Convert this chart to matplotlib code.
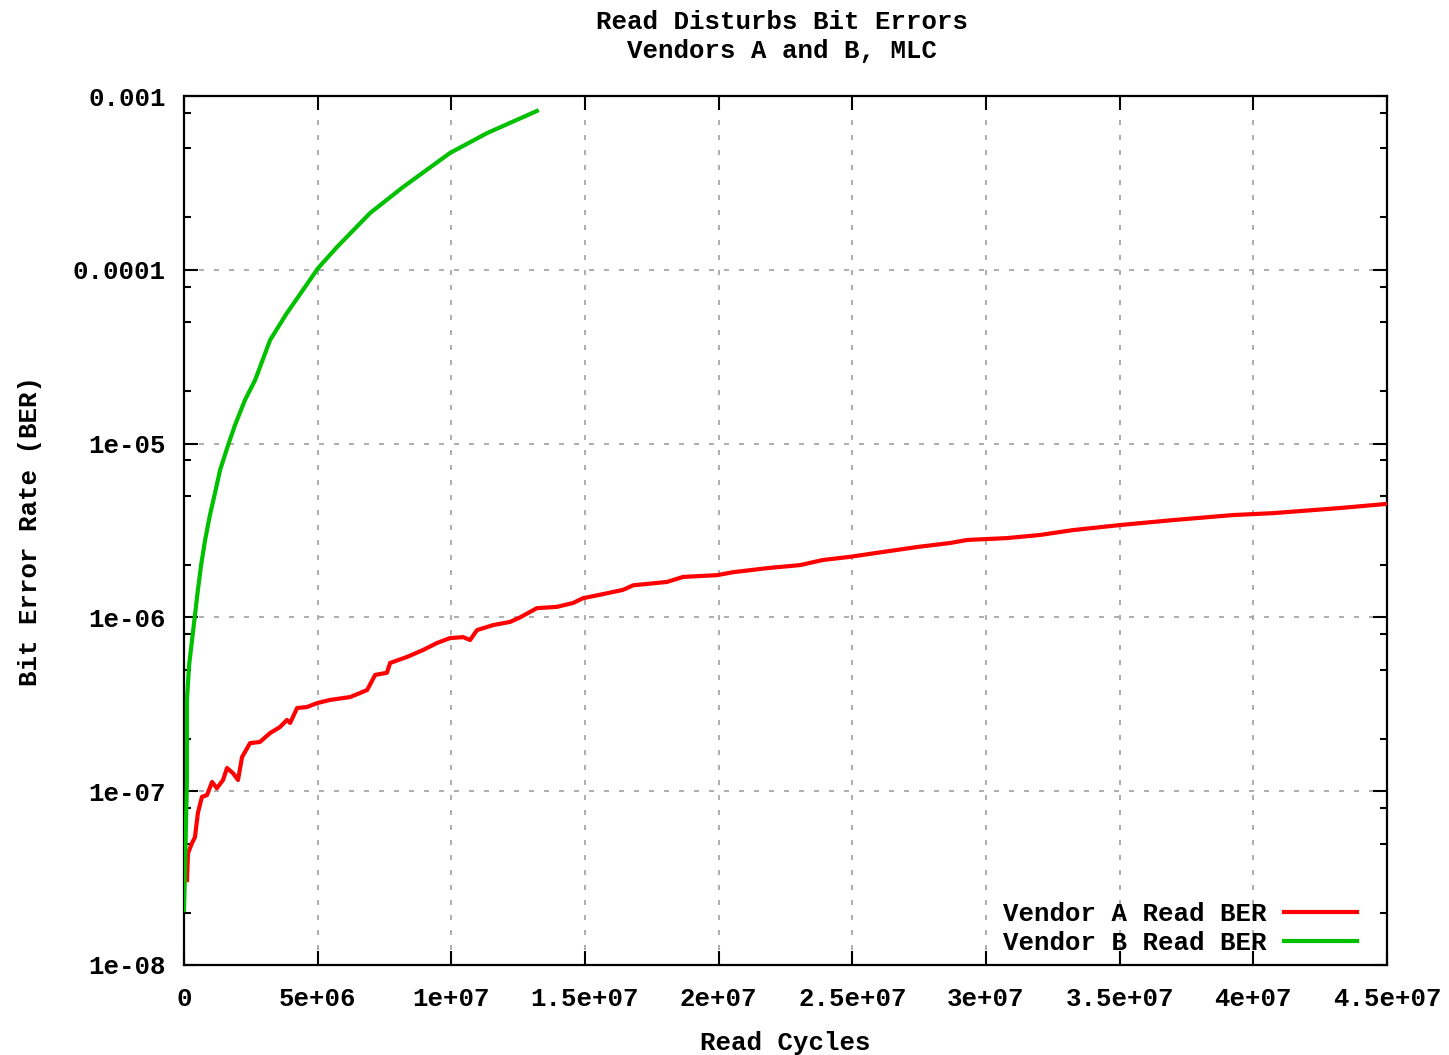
import matplotlib
matplotlib.use("Agg")
import matplotlib.pyplot as plt
from matplotlib.ticker import FixedLocator, NullFormatter

# ---- data ----
vendor_a_x = [1.12e5, 1.5e5, 3.0e5, 4.1e5, 5.2e5, 6.7e5, 8.6e5, 1.05e6, 1.23e6, 1.46e6,
              1.61e6, 1.83e6, 2.02e6, 2.17e6, 2.47e6, 2.84e6, 3.22e6, 3.59e6, 3.85e6, 3.97e6,
              4.23e6, 4.60e6, 4.97e6, 5.46e6, 6.21e6, 6.58e6, 6.85e6, 7.15e6, 7.59e6, 7.71e6,
              8.34e6, 8.94e6, 9.47e6, 9.95e6, 1.044e7, 1.07e7, 1.096e7, 1.156e7, 1.22e7, 1.257e7,
              1.32e7, 1.395e7, 1.455e7, 1.493e7, 1.556e7, 1.642e7, 1.68e7, 1.807e7, 1.867e7, 1.994e7,
              2.054e7, 2.181e7, 2.305e7, 2.39e7, 2.49e7, 2.615e7, 2.742e7, 2.866e7, 2.93e7, 3.079e7,
              3.202e7, 3.326e7, 3.502e7, 3.70e7, 3.924e7, 4.074e7, 4.325e7, 4.493e7]
vendor_a_ber = [3.08e-8, 4.4e-8, 5.03e-8, 5.44e-8, 7.5e-8, 9.27e-8, 9.5e-8, 1.13e-7, 1.04e-7, 1.16e-7,
                1.36e-7, 1.27e-7, 1.16e-7, 1.57e-7, 1.89e-7, 1.92e-7, 2.16e-7, 2.34e-7, 2.57e-7, 2.47e-7,
                3.01e-7, 3.05e-7, 3.21e-7, 3.35e-7, 3.48e-7, 3.67e-7, 3.82e-7, 4.67e-7, 4.8e-7, 5.47e-7,
                5.92e-7, 6.49e-7, 7.13e-7, 7.6e-7, 7.7e-7, 7.41e-7, 8.45e-7, 9.03e-7, 9.42e-7, 1.0e-6,
                1.13e-6, 1.15e-6, 1.21e-6, 1.29e-6, 1.35e-6, 1.44e-6, 1.53e-6, 1.60e-6, 1.71e-6, 1.75e-6,
                1.82e-6, 1.92e-6, 2.0e-6, 2.14e-6, 2.23e-6, 2.38e-6, 2.54e-6, 2.68e-6, 2.79e-6, 2.86e-6,
                2.98e-6, 3.18e-6, 3.40e-6, 3.63e-6, 3.88e-6, 3.98e-6, 4.26e-6, 4.49e-6]

vendor_b_x = [0, 3.7e4, 1.1e5, 1.1e5, 1.9e5, 3.0e5, 4.1e5, 5.2e5, 6.4e5, 7.9e5,
              9.7e5, 1.16e6, 1.35e6, 1.65e6, 1.91e6, 2.28e6, 2.66e6, 3.22e6, 3.85e6, 4.45e6,
              5.01e6, 5.72e6, 6.96e6, 8.19e6, 9.95e6, 1.134e7, 1.32e7]
vendor_b_ber = [2.07e-8, 3.5e-8, 1.16e-7, 3.35e-7, 5.3e-7, 7.4e-7, 1.03e-6, 1.44e-6, 2.0e-6, 2.79e-6,
                3.88e-6, 5.2e-6, 7.05e-6, 9.8e-6, 1.28e-5, 1.78e-5, 2.32e-5, 3.94e-5, 5.64e-5, 7.65e-5,
                1.02e-4, 1.35e-4, 2.12e-4, 2.99e-4, 4.70e-4, 6.12e-4, 8.2e-4]

xtick_values = [0, 5e6, 1e7, 1.5e7, 2e7, 2.5e7, 3e7, 3.5e7, 4e7, 4.5e7]
xtick_labels = ["0", "5e+06", "1e+07", "1.5e+07", "2e+07", "2.5e+07", "3e+07", "3.5e+07", "4e+07", "4.5e+07"]
ytick_values = [1e-8, 1e-7, 1e-6, 1e-5, 1e-4, 1e-3]
ytick_labels = ["1e-08", "1e-07", "1e-06", "1e-05", "0.0001", "0.001"]
series_labels = ["Vendor A Read BER", "Vendor B Read BER"]
title_lines = ["Read Disturbs Bit Errors", "Vendors A and B, MLC"]

FONT = ["Liberation Mono", "DejaVu Sans Mono"]
FS = 18.5
plt.rcParams["font.family"] = FONT
plt.rcParams["font.weight"] = "bold"

fig = plt.figure(figsize=(14.49, 10.55), dpi=100)
ax = fig.add_axes([184/1449, 1-965/1055, (1387-184)/1449, (965-96)/1055])

ax.plot(vendor_a_x, vendor_a_ber, color="#ff0000", lw=3, label=series_labels[0], zorder=3)
ax.plot(vendor_b_x, vendor_b_ber, color="#00c000", lw=3, label=series_labels[1], zorder=3)

ax.set_yscale("log")
ax.set_xlim(0, 4.5e7)
ax.set_ylim(1e-8, 1e-3)

ax.xaxis.set_major_locator(FixedLocator(xtick_values))
ax.set_xticklabels(xtick_labels, fontsize=FS, fontweight="bold")
ax.yaxis.set_major_locator(FixedLocator(ytick_values))
ax.set_yticklabels(ytick_labels, fontsize=FS, fontweight="bold")
minor = []
for d in range(-8, -3):
    for m in (2, 5, 8):
        minor.append(m * 10.0**d)
ax.yaxis.set_minor_locator(FixedLocator(minor))
ax.yaxis.set_minor_formatter(NullFormatter())

ax.tick_params(which="major", direction="in", length=10, width=1.5, top=True, right=True)
ax.tick_params(which="minor", direction="in", length=5, width=1.5, top=True, right=True)
ax.tick_params(axis="y", pad=13)
ax.tick_params(axis="x", pad=16)

ax.grid(True, which="major", color="#a0a0a0", linestyle=(0, (3, 6)), linewidth=1.2)
for s in ax.spines.values():
    s.set_linewidth(1.6)
    s.set_color("black")

ax.set_xlabel("Read Cycles", fontsize=FS, fontweight="bold", labelpad=14)
ax.set_ylabel("Bit Error Rate (BER)", fontsize=FS, fontweight="bold", labelpad=22)
fig.text(782/1449, 1-22/1055, title_lines[0], ha="center", va="center", fontsize=FS, fontweight="bold")
fig.text(782/1449, 1-51/1055, title_lines[1], ha="center", va="center", fontsize=FS, fontweight="bold")

leg = ax.legend(loc="lower right", bbox_to_anchor=(0.975, 0.012), frameon=False, fontsize=FS,
                markerfirst=False, handlelength=2.85, handletextpad=0.65, borderaxespad=0,
                borderpad=0, labelspacing=0.17)
for t in leg.get_texts():
    t.set_fontweight("bold")

fig.savefig("out.png", dpi=100)
